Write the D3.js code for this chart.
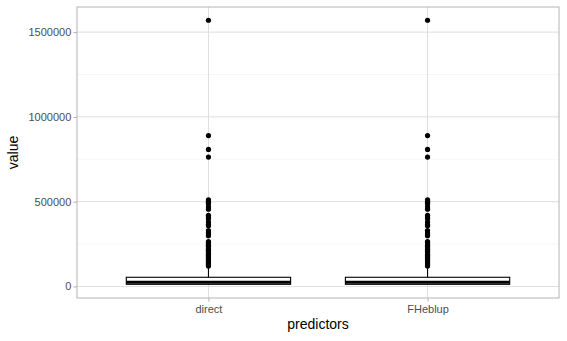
<!DOCTYPE html>
<html>
<head>
<meta charset="utf-8">
<script src="https://cdn.jsdelivr.net/npm/d3@7"></script>
<style>
  body { margin: 0; background: #fff; }
  text { font-family: "Liberation Sans", Arial, sans-serif; }
</style>
</head>
<body>
<script>
// data
const predictors = ["direct", "FHeblup"];
const lowerWhisker = [10000, 10000];
const q1 = [12600, 12600];
const median = [24800, 24800];
const q3 = [54200, 54200];
const upperWhisker = [115000, 115000];
const outliersDirect = [1570000, 890000, 808000, 763000, 511000, 503000, 495000, 488000, 470000,
  456000, 420000, 409000, 400000, 380000, 365000, 358000, 330000, 316000, 305000, 299000,
  265000, 258000, 250000, 243000, 236000, 228000, 220000, 212000, 205000, 198000, 190000,
  183000, 176000, 170000, 163000, 157000, 150000, 144000, 138000, 132000, 126000, 120000];
const outliersFH = [1570000, 890000, 808000, 763000, 511000, 503000, 495000, 488000, 470000,
  456000, 420000, 409000, 400000, 380000, 365000, 358000, 330000, 316000, 305000, 299000,
  265000, 258000, 250000, 243000, 236000, 228000, 220000, 212000, 205000, 198000, 190000,
  183000, 176000, 170000, 163000, 157000, 150000, 144000, 138000, 132000, 126000, 120000];
const outliers = [outliersDirect, outliersFH];
const yTicks = [0, 500000, 1000000, 1500000];
const yMinor = [250000, 750000, 1250000];

const width = 567, height = 341;
const margin = {top: 7, right: 8, bottom: 43, left: 77};
const svg = d3.select("body").append("svg").attr("width", width).attr("height", height);

// ggplot style 5% expansion on a continuous axis
const allVals = lowerWhisker.concat(outliersDirect, outliersFH);
const lo = d3.min(allVals), hi = d3.max(allVals);
const pad = (hi - lo) * 0.05;
const y = d3.scaleLinear().domain([lo - pad, hi + pad]).range([height - margin.bottom, margin.top]);
// discrete axis: positions 1..n inside [0.4, n+0.6]
const xpos = d3.scaleLinear().domain([0.4, predictors.length + 0.6]).range([margin.left, width - margin.right]);
const cx = (d, i) => xpos(i + 1);
const boxW = xpos(1.375) - xpos(0.625);

const g = svg.append("g");

// grid
g.selectAll(".minor").data(yMinor).enter().append("line")
  .attr("x1", margin.left).attr("x2", width - margin.right)
  .attr("y1", d => y(d)).attr("y2", d => y(d))
  .attr("stroke", "#ececec").attr("stroke-width", 0.5);
g.selectAll(".major").data(yTicks).enter().append("line")
  .attr("x1", margin.left).attr("x2", width - margin.right)
  .attr("y1", d => y(d)).attr("y2", d => y(d))
  .attr("stroke", "#dedede").attr("stroke-width", 1);
g.selectAll(".vmajor").data(predictors).enter().append("line")
  .attr("x1", cx).attr("x2", cx)
  .attr("y1", margin.top).attr("y2", height - margin.bottom)
  .attr("stroke", "#dedede").attr("stroke-width", 1);

// boxes
const box = g.selectAll(".box").data(predictors).enter().append("g");
box.append("line")
  .attr("x1", cx).attr("x2", cx)
  .attr("y1", (d, i) => y(upperWhisker[i])).attr("y2", (d, i) => y(q3[i]))
  .attr("stroke", "#000").attr("stroke-width", 1.1);
box.append("line")
  .attr("x1", cx).attr("x2", cx)
  .attr("y1", (d, i) => y(q1[i])).attr("y2", (d, i) => y(lowerWhisker[i]))
  .attr("stroke", "#000").attr("stroke-width", 1.1);
box.append("rect")
  .attr("x", (d, i) => cx(d, i) - boxW / 2).attr("width", boxW)
  .attr("y", (d, i) => y(q3[i])).attr("height", (d, i) => y(q1[i]) - y(q3[i]))
  .attr("fill", "#fff").attr("stroke", "#000").attr("stroke-width", 1.1);
box.append("line")
  .attr("x1", (d, i) => cx(d, i) - boxW / 2).attr("x2", (d, i) => cx(d, i) + boxW / 2)
  .attr("y1", (d, i) => y(median[i])).attr("y2", (d, i) => y(median[i]))
  .attr("stroke", "#000").attr("stroke-width", 2.8);

// outliers
predictors.forEach((p, i) => {
  g.selectAll(".out" + i).data(outliers[i]).enter().append("circle")
    .attr("cx", cx(p, i)).attr("cy", d => y(d)).attr("r", 2.6).attr("fill", "#000");
});

// panel border
svg.append("rect")
  .attr("x", margin.left).attr("y", margin.top)
  .attr("width", width - margin.left - margin.right).attr("height", height - margin.top - margin.bottom)
  .attr("fill", "none").attr("stroke", "#b3b3b3").attr("stroke-width", 1);

// axes
const yAxis = svg.append("g").attr("transform", `translate(${margin.left},0)`)
  .call(d3.axisLeft(y).tickValues(yTicks).tickFormat(d3.format("d")).tickSize(3.7).tickPadding(2));
yAxis.select(".domain").remove();
yAxis.selectAll("line").attr("stroke", "#b3b3b3");
yAxis.selectAll("text").style("fill", "#4d4d4d").style("font-size", "11px");

const xAxis = svg.append("g").attr("transform", `translate(0,${height - margin.bottom})`)
  .call(d3.axisBottom(xpos).tickValues([1, 2]).tickFormat(d => predictors[d - 1]).tickSize(3.7).tickPadding(3));
xAxis.select(".domain").remove();
xAxis.selectAll("line").attr("stroke", "#b3b3b3");
xAxis.selectAll("text").style("fill", "#4d4d4d").style("font-size", "11px");

// titles
svg.append("text").attr("x", (margin.left + width - margin.right) / 2).attr("y", 329)
  .attr("text-anchor", "middle").style("font-size", "14px").attr("fill", "#000").text("predictors");
svg.append("text").attr("transform", `translate(18,${(margin.top + height - margin.bottom) / 2}) rotate(-90)`)
  .attr("text-anchor", "middle").style("font-size", "14px").attr("fill", "#000").text("value");
</script>
</body>
</html>
